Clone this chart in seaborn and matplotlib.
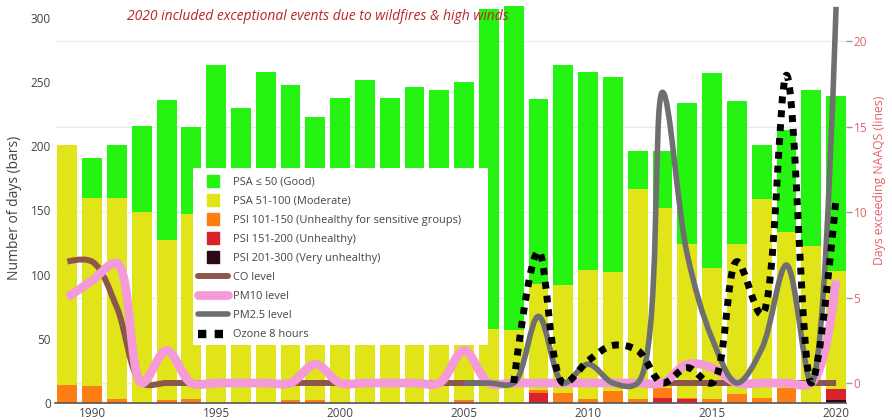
import numpy as np
import pandas as pd
import matplotlib
matplotlib.use("Agg")
import matplotlib.pyplot as plt
from matplotlib.path import Path
from matplotlib.patches import PathPatch, Rectangle
from matplotlib.lines import Line2D
import seaborn as sns

# ---------------- data ----------------
years = [1989, 1990, 1991, 1992, 1993, 1994, 1995, 1996, 1997, 1998, 1999, 2000,
         2001, 2002, 2003, 2004, 2005, 2006, 2007, 2008, 2009, 2010, 2011, 2012,
         2013, 2014, 2015, 2016, 2017, 2018, 2019, 2020]
good = [0, 31, 41, 67, 109, 68, 123, 94, 130, 122, 103, 126,
        146, 137, 150, 156, 166, 249, 252, 144, 171, 154, 152, 29,
        44, 110, 152, 111, 42, 80, 122, 136]
moderate = [187, 147, 157, 149, 125, 144, 140, 136, 128, 124, 118, 112,
            106, 101, 96, 88, 82, 58, 57, 83, 84, 101, 93, 164,
            140, 120, 102, 117, 155, 121, 122, 92]
usg = [14, 13, 3, 0, 2, 3, 0, 0, 0, 2, 2, 0,
       0, 0, 0, 0, 2, 0, 0, 2, 8, 3, 9, 3,
       8, 1, 3, 7, 4, 12, 0, 0]
unhealthy = [0, 0, 0, 0, 0, 0, 0, 0, 0, 0, 0, 0,
             0, 0, 0, 0, 0, 0, 0, 7, 0, 0, 0, 0,
             4, 3, 0, 0, 0, 0, 0, 9]
very_unhealthy = [0, 0, 0, 0, 0, 0, 0, 0, 0, 0, 0, 0,
                  0, 0, 0, 0, 0, 0, 0, 1, 0, 0, 0, 0,
                  0, 0, 0, 0, 0, 0, 0, 2]

co_level = [7.1, 7.1, 4.4, 0, 0, 0, 0, 0, 0, 0, 0, 0,
            0, 0, 0, 0, 0, 0, 0, 0, 0, 0, 0, 0,
            0, 0, 0, 0, 0, 0, 0, 0]
pm10_level = [5.0, 6.0, 7.0, 0, 1.9, 0, 0, 0, 0, 0, 1.1, 0,
              0, 0, 0, 0, 1.9, 0, 0, 0, 0, 0, 0, 0,
              0, 1.1, 0.9, 0, 0, 0, 0, 6.0]
pm25_years = [2005, 2006, 2007, 2008, 2009, 2010, 2011, 2012,
              2013, 2014, 2015, 2016, 2017, 2018, 2019, 2020]
pm25_level = [0, 0, 0, 3.9, 0, 1.1, 0, 0, 17.0, 7.5, 2.6, 0, 2.0, 6.9, 0, 22.0]
ozone_years = [2007, 2008, 2009, 2010, 2011, 2012, 2013, 2014,
               2015, 2016, 2017, 2018, 2019, 2020]
ozone_8h = [0, 7.7, 0, 1.3, 2.2, 1.9, 0, 0.9, 0, 7.1, 4.0, 18.0, 0, 10.8]

bar_labels = ["PSA \u2264 50 (Good)", "PSA 51-100 (Moderate)",
              "PSI 101-150 (Unhealthy for sensitive groups)",
              "PSI 151-200 (Unhealthy)", "PSI 201-300 (Very unhealthy)"]
line_labels = ["CO level", "PM10 level", "PM2.5 level", "Ozone 8 hours"]
x_ticks = [1990, 1995, 2000, 2005, 2010, 2015, 2020]
left_ticks = [0, 50, 100, 150, 200, 250, 300]
right_ticks = [0, 5, 10, 15, 20]
note = "2020 included exceptional events due to wildfires & high winds"

# ---------------- style ----------------
C_GOOD, C_MOD, C_USG, C_UNH, C_VUN = "#25f312", "#e0e418", "#fd7e14", "#d8232a", "#2a0a18"
C_CO, C_PM10, C_PM25, C_OZ = "#8c564b", "#f59ad9", "#6f6f6f", "#000000"

sns.set_theme(style="white")
plt.rcParams["font.family"] = ["Open Sans", "DejaVu Sans"]

W, H = 892, 420
fig = plt.figure(figsize=(W / 100, H / 100), dpi=100)
fig.patch.set_facecolor("white")
ax = fig.add_axes([55 / W, 17 / H, 791 / W, 403 / H])
ax2 = ax.twinx()

XLIM = (1988.5, 2020.4)
LEFT_LIM = (0, 314)
RIGHT_LIM = (-1.17, 22.4)

# ---------------- stacked bars ----------------
df = pd.DataFrame({"year": years, "good": good, "moderate": moderate, "usg": usg,
                   "unhealthy": unhealthy, "very": very_unhealthy})
stack = df[["very", "unhealthy", "usg", "moderate", "good"]].cumsum(axis=1)
stack["year"] = df["year"]
for col, colr in [("good", C_GOOD), ("moderate", C_MOD), ("usg", C_USG),
                  ("unhealthy", C_UNH), ("very", C_VUN)]:
    sns.barplot(data=stack, x="year", y=col, native_scale=True, color=colr,
                saturation=1, width=0.8, errorbar=None, linewidth=0, ax=ax)

ax.set_xlim(*XLIM)
ax.set_ylim(*LEFT_LIM)
ax2.set_ylim(*RIGHT_LIM)

# gridlines of right scale drawn behind bars
for v in right_ticks:
    yl = (v - RIGHT_LIM[0]) / (RIGHT_LIM[1] - RIGHT_LIM[0]) * (LEFT_LIM[1] - LEFT_LIM[0])
    ax.axhline(yl, color="#ebebeb", lw=1, zorder=0)

# ---------------- smooth lines (plotly-like spline) ----------------
def spline_path(axis, xs, ys, smoothness=1.0):
    pts = axis.transData.transform(np.column_stack([xs, ys]).astype(float))
    n = len(pts)
    tangents = []
    for i in range(1, n - 1):
        p0, p1, p2 = pts[i - 1], pts[i], pts[i + 1]
        d1 = p0 - p1
        d2 = p2 - p1
        d1a = np.hypot(*d1) ** 0.5
        d2a = np.hypot(*d2) ** 0.5
        num = (d2a * d2a * d1 - d1a * d1a * d2) * smoothness
        den1 = 3 * d2a * (d1a + d2a)
        den2 = 3 * d1a * (d1a + d2a)
        t0 = p1 + (num / den1 if den1 else 0)
        t1 = p1 - (num / den2 if den2 else 0)
        tangents.append((t0, t1))
    verts = [pts[0], tangents[0][0], pts[1]]
    codes = [Path.MOVETO, Path.CURVE3, Path.CURVE3]
    for i in range(2, n - 1):
        verts += [tangents[i - 2][1], tangents[i - 1][0], pts[i]]
        codes += [Path.CURVE4] * 3
    verts += [tangents[n - 3][1], pts[n - 1]]
    codes += [Path.CURVE3] * 2
    data_verts = axis.transData.inverted().transform(np.array(verts))
    return Path(data_verts, codes)

line_specs = [
    (years, co_level, dict(color=C_CO, lw=4.3)),
    (years, pm10_level, dict(color=C_PM10, lw=6.3)),
    (pm25_years, pm25_level, dict(color=C_PM25, lw=4.0)),
    (ozone_years, ozone_8h, dict(color=C_OZ, lw=5.0, linestyle=(0, (1, 1)))),
]
for k, (xs, ys, st) in enumerate(line_specs):
    p = spline_path(ax2, xs, ys)
    patch = PathPatch(p, fill=False, edgecolor=st["color"], lw=st["lw"],
                      linestyle=st.get("linestyle", "-"), capstyle="butt",
                      joinstyle="round", transform=ax2.transData, zorder=3 + k)
    ax2.add_patch(patch)

# ---------------- axes styling ----------------
for a in (ax, ax2):
    for s in a.spines.values():
        s.set_visible(False)
    a.grid(False)
ax.spines["bottom"].set_visible(True)
ax.spines["bottom"].set_color("#555555")
ax.spines["bottom"].set_linewidth(1.2)

ax.set_xticks(x_ticks)
ax.set_xticklabels([str(t) for t in x_ticks])
ax.set_yticks(left_ticks)
ax.set_yticklabels([str(t) for t in left_ticks])
ax.tick_params(axis="x", length=0, pad=3, labelsize=8.5, labelcolor="#444444")
ax.tick_params(axis="y", length=0, pad=3, labelsize=8.5, labelcolor="#444444")
ax.set_xlabel("")
ax.set_ylabel("")
ax2.set_yticks(right_ticks)
ax2.set_yticklabels([str(t) for t in right_ticks])
ax2.tick_params(axis="y", direction="out", length=4, width=1, color="#999999",
                pad=1.5, labelsize=8.5, labelcolor="#e5606a")
ax2.set_ylabel("")

fig.text(15 / W, 1 - 208 / H, "Number of days (bars)", rotation=90,
         ha="center", va="center", fontsize=10, color="#444444")
fig.text(880 / W, 1 - 180 / H, "Days exceeding NAAQS (lines)", rotation=90,
         ha="center", va="center", fontsize=8.8, color="#e5606a")
fig.text(318 / W, 1 - 17 / H, note, ha="center", va="center", fontsize=10,
         style="italic", color="#b8262c")

# ---------------- legend ----------------
fig.add_artist(Rectangle((193 / W, 1 - 345 / H), (488 - 193) / W, (345 - 168) / H,
                         transform=fig.transFigure, facecolor="white",
                         edgecolor="none", zorder=4))
handles = [Line2D([], [], ls="none", marker="s", markersize=8, color=c)
           for c in (C_GOOD, C_MOD, C_USG, C_UNH, C_VUN)]
handles += [Line2D([], [], color=C_CO, lw=4.3),
            Line2D([], [], color=C_PM10, lw=6.3),
            Line2D([], [], color=C_PM25, lw=4.0),
            Line2D([], [], color=C_OZ, lw=6, ls=(0, (1, 1)), dash_capstyle="butt")]
leg = fig.legend(handles, bar_labels + line_labels, loc="upper left",
                 bbox_to_anchor=(193 / W, 1 - 171 / H), frameon=False,
                 fontsize=7.9, handlelength=2.7, handletextpad=0.45,
                 labelspacing=0.74, borderpad=0.5, borderaxespad=0)
for t in leg.get_texts():
    t.set_color("#444444")
leg.set_zorder(5)

fig.savefig("out.png", dpi=100, facecolor="white")
